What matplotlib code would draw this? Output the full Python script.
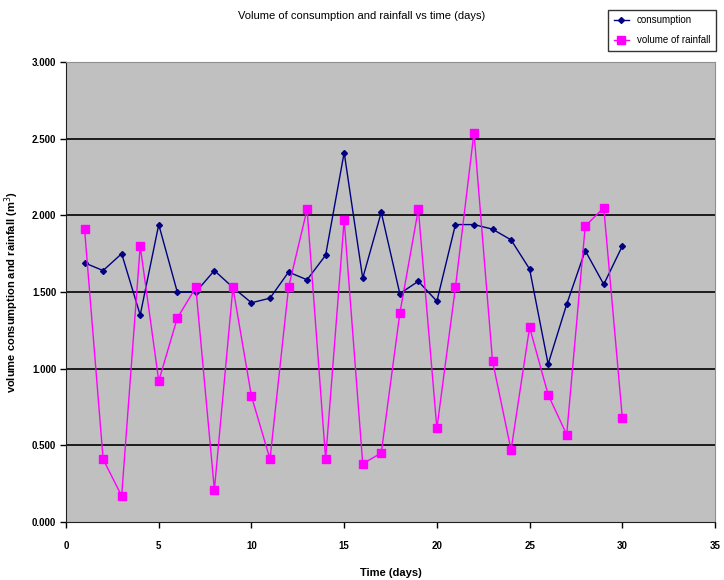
import numpy as np
import matplotlib
matplotlib.use('Agg')
import matplotlib.pyplot as plt
from matplotlib.ticker import FormatStrFormatter

plt.rcParams['font.family'] = ['Liberation Sans', 'DejaVu Sans']

days = list(range(1, 31))
consumption = [1.69, 1.64, 1.75, 1.35, 1.94, 1.50, 1.50, 1.64, 1.53, 1.43,
               1.46, 1.63, 1.58, 1.74, 2.41, 1.59, 2.02, 1.49, 1.57, 1.44,
               1.94, 1.94, 1.91, 1.84, 1.65, 1.03, 1.42, 1.77, 1.55, 1.80]
rainfall = [1.91, 0.41, 0.17, 1.80, 0.92, 1.33, 1.53, 0.21, 1.53, 0.82,
            0.41, 1.53, 2.04, 0.41, 1.97, 0.38, 0.45, 1.36, 2.04, 0.61,
            1.53, 2.54, 1.05, 0.47, 1.27, 0.83, 0.57, 1.93, 2.05, 0.68]

fig = plt.figure(figsize=(7.24, 5.8), dpi=100)
ax = fig.add_axes([0.0912, 0.1, 0.8964, 0.793])
ax.set_facecolor('#C0C0C0')

ax.plot(days, consumption, color='#000080', marker='D', markersize=3,
        linewidth=1, label='consumption', zorder=3)
ax.plot(days, rainfall, color='#FF00FF', marker='s', markersize=5.5,
        linewidth=1, label='volume of rainfall', zorder=4)

ax.set_xlim(0, 35)
ax.set_ylim(0, 3)
ax.set_xticks(np.arange(0, 36, 5))
ax.set_yticks(np.arange(0, 3.01, 0.5))
ax.yaxis.set_major_formatter(FormatStrFormatter('%.3f'))
for yv in [0.5, 1.0, 1.5, 2.0, 2.5]:
    ax.axhline(yv, color='black', linewidth=1.2, zorder=1)

ax.tick_params(direction='out', length=4, labelsize=7, width=1, pad=3)
ax.tick_params(axis='x', pad=10)
for lab in ax.get_xticklabels() + ax.get_yticklabels():
    lab.set_fontweight('bold')
ax.spines['left'].set_color('#202020')
ax.spines['bottom'].set_color('#202020')
ax.spines['top'].set_color('#909090')
ax.spines['right'].set_color('#909090')

ax.set_xlabel('Time (days)', fontsize=8, fontweight='bold', labelpad=12)
ax.set_ylabel('volume consumption and rainfall (m$^3$)', fontsize=8,
              fontweight='bold', labelpad=8)
fig.text(0.5, 0.972, 'Volume of consumption and rainfall vs time (days)',
         ha='center', va='center', fontsize=8)

leg = fig.legend(loc='upper right', bbox_to_anchor=(0.996, 0.992), fontsize=7,
                 frameon=True, fancybox=False, handlelength=1.6,
                 borderpad=0.6, labelspacing=1.0)
leg.get_frame().set_edgecolor('black')
leg.get_frame().set_linewidth(1)

fig.savefig('out.png', dpi=100)
